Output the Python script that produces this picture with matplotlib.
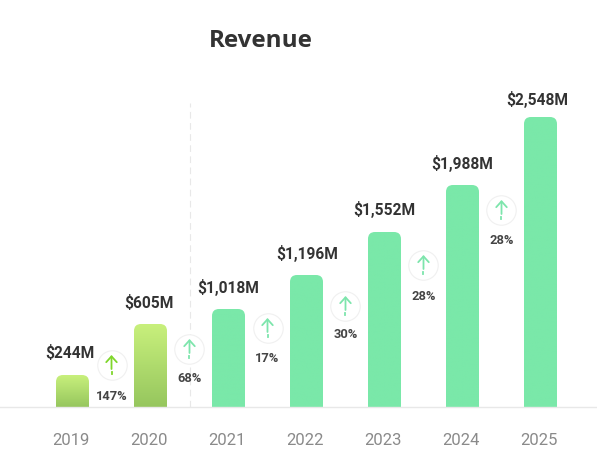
import numpy as np
import matplotlib.pyplot as plt
from matplotlib.path import Path
from matplotlib.patches import PathPatch
from matplotlib.colors import LinearSegmentedColormap

plt.rcParams['font.family'] = ['Roboto', 'DejaVu Sans']

# Data
years = ['2019', '2020', '2021', '2022', '2023', '2024', '2025']
revenue_labels = ['$244M', '$605M', '$1,018M', '$1,196M', '$1,552M', '$1,988M', '$2,548M']
# drawn bar heights (the bars are not to scale with the labels)
bar_heights = [32, 83, 98, 132, 175, 222, 290]
growth_labels = ['147%', '68%', '17%', '30%', '28%', '28%']
growth_levels = [42, 58, 79, 101, 142, 197]
growth_text_levels = [11, 28, 48, 73, 110, 167]

# small hand nudges for the value labels, in pixels
label_dx = [-2.5, -2, 0, 0.5, 0, 0, -3]
label_dy = [22, 21.5, 22, 22, 23, 21, 18]

W, H = 597, 463
BASE = 407
fig = plt.figure(figsize=(W / 100, H / 100), dpi=100)
ax = fig.add_axes([0, (H - BASE) / H, 1, BASE / H])
ax.set_xlim(-72.5 / 78, (W - 72.5) / 78)
ax.set_ylim(0, BASE)

bar_w = 33 / 78
rx = 7 / 78
ry = 7

early_cmap = LinearSegmentedColormap.from_list('early', ['#C8F07C', '#96C65E'])
late_cmap = LinearSegmentedColormap.from_list('late', ['#7AE8A9', '#7AE8A9'])

def rounded_bar(x, h):
    l, r = x - bar_w / 2, x + bar_w / 2
    verts = [(l, 0), (l, h - ry), (l, h), (l + rx, h), (r - rx, h), (r, h), (r, h - ry), (r, 0), (l, 0)]
    codes = [Path.MOVETO, Path.LINETO, Path.CURVE3, Path.CURVE3, Path.LINETO,
             Path.CURVE3, Path.CURVE3, Path.LINETO, Path.CLOSEPOLY]
    return Path(verts, codes)

xs = np.arange(len(years))
grad = np.linspace(0, 1, 128).reshape(-1, 1)
for i, (x, h) in enumerate(zip(xs, bar_heights)):
    cmap = early_cmap if i < 2 else late_cmap
    im = ax.imshow(grad, cmap=cmap, aspect='auto', origin='upper', zorder=2,
                   extent=(x - bar_w / 2, x + bar_w / 2, 0, h), vmin=0, vmax=1)
    patch = PathPatch(rounded_bar(x, h), transform=ax.transData, fc='none', ec='none')
    ax.add_patch(patch)
    im.set_clip_path(patch)
    ax.text(x + label_dx[i] / 78, h + label_dy[i], revenue_labels[i], ha='center', va='center',
            fontsize=11.2, fontweight='bold', color='#333333', zorder=5)
ax.set_xlim(-72.5 / 78, (W - 72.5) / 78)
ax.set_ylim(0, BASE)

# dashed divider between 2020 and 2021
ax.plot([1.51, 1.51], [0, 304], color='#e8e8e8', lw=0.8, ls=(0, (6, 4)), zorder=1)

# growth markers
for i, (lvl, txt) in enumerate(zip(growth_levels, growth_labels)):
    x = xs[i] + 0.5
    col = '#7FD62B' if i == 0 else '#7DE5AC'
    ax.scatter([x], [lvl], s=450, facecolor='white', edgecolor='#f0f0f0', linewidth=0.8, zorder=3)
    ax.annotate('', xy=(x, lvl + 10), xytext=(x, lvl - 4),
                arrowprops=dict(arrowstyle='->,head_width=0.38,head_length=0.42', lw=1.3,
                                color=col, shrinkA=0, shrinkB=0), zorder=4)
    ax.plot([x, x], [lvl - 9, lvl - 6.5], color=col, lw=1.3, zorder=4)
    ax.text(x, growth_text_levels[i], txt, ha='center', va='center', fontsize=9.3,
            fontweight='bold', color='#444444', zorder=5)

ax.set_xticks(xs - 1.5 / 78, years)
ax.tick_params(axis='x', length=0, pad=19, labelsize=12, labelcolor='#8a8a8a')
ax.set_yticks([])
for side in ['top', 'left', 'right']:
    ax.spines[side].set_visible(False)
ax.spines['bottom'].set_color('#e8e8e8')
ax.spines['bottom'].set_linewidth(1)
ax.patch.set_visible(False)

fig.text(209 / W, 1 - 41 / H, 'Revenue', fontsize=17.5, fontweight='bold',
         family=['Open Sans', 'DejaVu Sans'], color='#333333', ha='left', va='center')

fig.savefig('out.png', dpi=100)
